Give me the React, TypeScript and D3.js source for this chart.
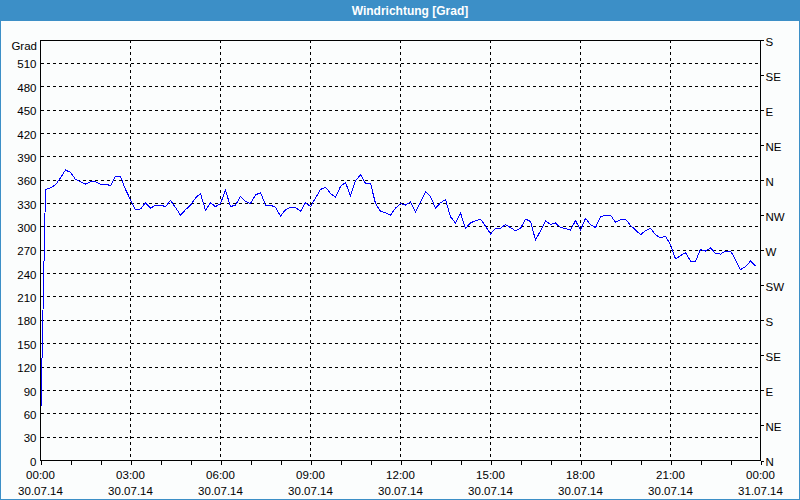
import * as React from "react";
import * as d3 from "d3";

const chartTitle = "Windrichtung [Grad]";
const unitLabel = "Grad";

// left axis (degrees) and right axis (compass points)
const degreeTicks = [0, 30, 60, 90, 120, 150, 180, 210, 240, 270, 300, 330, 360, 390, 420, 450, 480, 510];
const compassTicks = [0, 45, 90, 135, 180, 225, 270, 315, 360, 405, 450, 495, 540];
const compassLabels = ["N", "NE", "E", "SE", "S", "SW", "W", "NW", "N", "NE", "E", "SE", "S"];

// bottom axis, every 3 hours
const timeLabels = ["00:00", "03:00", "06:00", "09:00", "12:00", "15:00", "18:00", "21:00", "00:00"];
const dateLabels = ["30.07.14", "30.07.14", "30.07.14", "30.07.14", "30.07.14", "30.07.14", "30.07.14", "30.07.14", "31.07.14"];

// one reading every 10 minutes, 30.07.14 00:00 .. 23:50
const startTime = new Date(2014, 6, 30, 0, 0);
const stepMinutes = 10;
const windDirection = [
  38,
  348, 350, 354, 363, 373, 370, 361, 358, 355, 358, 358, 355, 355, 353, 365, 365, 348,
  335, 322, 323, 331, 324, 328, 328, 326, 334, 325, 315, 322, 328, 337, 343, 321, 331, 326,
  330, 347, 326, 328, 339, 333, 330, 341, 344, 328, 328, 325, 314, 322, 325, 325, 320, 331,
  326, 337, 348, 351, 343, 338, 352, 357, 340, 359, 367, 356, 356, 330, 320, 318, 315, 324,
  330, 328, 332, 319, 332, 345, 339, 324, 331, 335, 313, 305, 318, 298, 305, 308, 310, 301,
  291, 298, 298, 303, 299, 295, 298, 310, 307, 283, 295, 308, 303, 305, 299, 298, 296, 308,
  296, 311, 303, 299, 313, 315, 315, 306, 309, 310, 302, 296, 290, 295, 298, 290, 286, 288,
  277, 259, 263, 267, 256, 256, 271, 269, 273, 266, 265, 269, 269, 258, 245, 249, 256, 250
];

export default class App extends React.Component<any, any> {
  width = 800;
  height = 500;
  left = 40.5;
  right = 760.5;
  top = 40;
  bottom = 460.5;
  font = "Tahoma, 'Liberation Sans', Arial, sans-serif";
  fontSize = "11.5px";

  componentDidMount() {
    this.drawGraph();
  }

  drawGraph() {
    let data = windDirection.map((v, i) => ({
      date: new Date(startTime.getTime() + i * stepMinutes * 60000),
      value: v
    }));

    let endTime = new Date(2014, 6, 31, 0, 0);
    let x = d3.scaleTime().domain([startTime, endTime]).range([this.left, this.right]);
    let y = d3.scaleLinear().domain([0, 540]).range([this.bottom, this.top]);

    d3.select("#windGraph svg").remove();

    let svg = d3.select("#windGraph").append("svg")
      .attr("width", this.width)
      .attr("height", this.height)
      .style("position", "absolute")
      .style("left", "0px")
      .style("top", "0px")
      .style("font-family", this.font);

    // background, frame and title bar
    svg.append("rect").attr("x", 0).attr("y", 0).attr("width", 800).attr("height", 500).attr("fill", "#fbfdfd");
    svg.append("rect").attr("x", 0.5).attr("y", 0.5).attr("width", 799).attr("height", 499)
      .attr("fill", "none").attr("stroke", "#3c8fc7");
    svg.append("rect").attr("x", 0).attr("y", 0).attr("width", 800).attr("height", 21).attr("fill", "#3c8fc7");
    svg.append("text").attr("x", 410).attr("y", 15).attr("text-anchor", "middle")
      .attr("fill", "#ffffff").attr("font-weight", "bold").attr("font-size", "12px")
      .text(chartTitle);

    let hourTicks = d3.timeHour.range(startTime, new Date(endTime.getTime() + 1));
    let majorTicks = d3.timeHour.every(3).range(startTime, new Date(endTime.getTime() + 1));

    // grid
    let grid = svg.append("g").attr("stroke", "#000").attr("stroke-dasharray", "3,3")
      .attr("shape-rendering", "crispEdges");
    grid.selectAll("line.h").data(degreeTicks.filter(d => d > 0)).enter().append("line")
      .attr("x1", this.left).attr("x2", this.right)
      .attr("y1", d => y(d)).attr("y2", d => y(d));
    grid.selectAll("line.v").data(majorTicks.slice(1, -1)).enter().append("line")
      .attr("x1", d => x(d)).attr("x2", d => x(d))
      .attr("y1", this.top).attr("y2", this.bottom);

    // line
    let valueline = d3.line<any>()
      .x(d => x(d.date))
      .y(d => y(d.value));
    svg.append("path").datum(data)
      .attr("fill", "none").attr("stroke", "#0000ff").attr("stroke-width", 1)
      .attr("shape-rendering", "crispEdges")
      .attr("d", valueline);

    // left axis
    let leftAxis = svg.append("g")
      .attr("transform", "translate(" + this.left + ",0)")
      .call(d3.axisLeft(y).tickValues(degreeTicks).tickSize(0).tickPadding(4));
    leftAxis.select(".domain").remove();
    leftAxis.selectAll("text").attr("font-size", this.fontSize).attr("font-family", this.font)
      .attr("fill", "#000").attr("dy", "0.4em");
    svg.append("text").attr("x", 37).attr("y", 50).attr("text-anchor", "end")
      .attr("font-size", this.fontSize).text(unitLabel);

    // right axis
    let rightAxis = svg.append("g")
      .attr("transform", "translate(" + this.right + ",0)")
      .call(d3.axisRight(y).tickValues(compassTicks).tickSize(3).tickPadding(2)
        .tickFormat((d, i) => compassLabels[i]));
    rightAxis.select(".domain").remove();
    rightAxis.selectAll("line").attr("shape-rendering", "crispEdges");
    rightAxis.selectAll("text").attr("font-size", this.fontSize).attr("font-family", this.font)
      .attr("fill", "#000").attr("dy", "0.45em");

    // bottom axis, hourly minor ticks
    let bottomAxis = svg.append("g")
      .attr("transform", "translate(0," + this.bottom + ")")
      .call(d3.axisBottom(x).tickValues(hourTicks).tickSize(4).tickFormat(() => ""));
    bottomAxis.select(".domain").remove();
    bottomAxis.selectAll("line").attr("shape-rendering", "crispEdges");

    let labels = svg.append("g").attr("font-size", this.fontSize).attr("text-anchor", "middle");
    labels.selectAll("text.t").data(majorTicks).enter().append("text")
      .attr("x", d => x(d)).attr("y", 479).text((d, i) => timeLabels[i]);
    labels.selectAll("text.d").data(majorTicks).enter().append("text")
      .attr("x", d => x(d)).attr("y", 495).text((d, i) => dateLabels[i]);

    // plot frame
    svg.append("rect")
      .attr("x", this.left).attr("y", this.top + 0.5)
      .attr("width", this.right - this.left).attr("height", this.bottom - this.top - 0.5)
      .attr("fill", "none").attr("stroke", "#000").attr("shape-rendering", "crispEdges");
  }

  render(): any {
    return <div id="windGraph"></div>;
  }
}
